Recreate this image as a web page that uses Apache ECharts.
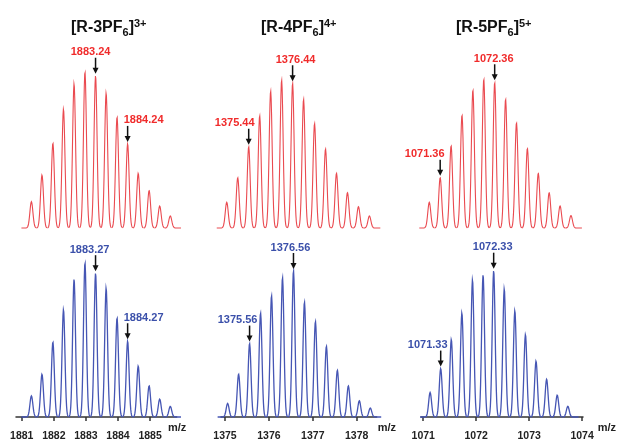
<!DOCTYPE html>
<html>
<head>
<meta charset="utf-8">
<script src="https://cdn.jsdelivr.net/npm/echarts@6/dist/echarts.min.js"></script>
<style>
  html, body { margin: 0; padding: 0; background: #fff; }
  #main { width: 617px; height: 442px; }
</style>
</head>
<body>
<div id="main"></div>
<script>
// m/z values and relative intensities
const calcMz1 = [1881.30, 1881.63, 1881.97, 1882.30, 1882.63, 1882.97, 1883.30, 1883.63, 1883.97, 1884.30, 1884.63, 1884.97, 1885.30, 1885.63];
const calcInt1 = [16.9, 34.0, 54.4, 76.2, 92.5, 100, 97.6, 86.5, 71.1, 53.9, 35.1, 24.0, 14.1, 7.7];
const expMz1 = [1881.30, 1881.63, 1881.97, 1882.30, 1882.63, 1882.97, 1883.30, 1883.63, 1883.97, 1884.30, 1884.63, 1884.97, 1885.30, 1885.63];
const expInt1 = [13.7, 27.7, 48.5, 69.5, 89.3, 100, 93.2, 83.5, 64.2, 49.1, 33.0, 20.2, 11.6, 6.9];

const calcMz2 = [1375.04, 1375.29, 1375.54, 1375.79, 1376.04, 1376.29, 1376.54, 1376.79, 1377.04, 1377.29, 1377.54, 1377.79, 1378.04, 1378.29];
const calcInt2 = [17.4, 34.0, 54.9, 75.9, 92.6, 100, 97.8, 87.0, 70.7, 53.4, 37.0, 23.9, 14.4, 8.1];
const expMz2 = [1375.06, 1375.31, 1375.56, 1375.81, 1376.06, 1376.31, 1376.56, 1376.81, 1377.06, 1377.31, 1377.56, 1377.81, 1378.06, 1378.31];
const expInt2 = [9.3, 29.3, 50.3, 71.2, 83.0, 95.4, 100, 78.7, 65.5, 48.5, 32.0, 21.3, 11.1, 6.1];

const calcMz3 = [1071.11, 1071.31, 1071.51, 1071.71, 1071.91, 1072.11, 1072.31, 1072.51, 1072.71, 1072.91, 1073.11, 1073.31, 1073.51, 1073.71];
const calcInt3 = [17.2, 33.8, 55.2, 75.8, 92.6, 100, 97.8, 86.6, 70.7, 53.5, 36.7, 23.7, 14.8, 8.3];
const expMz3 = [1071.13, 1071.33, 1071.53, 1071.73, 1071.93, 1072.13, 1072.33, 1072.53, 1072.73, 1072.93, 1073.13, 1073.33, 1073.53, 1073.73];
const expInt3 = [16.8, 33.1, 53.0, 71.1, 93.7, 97.1, 100, 87.6, 72.6, 56.3, 38.2, 25.8, 14.9, 7.3];

// labelled peaks (index into the arrays above) and their texts
const calcNoteIdx1 = [6, 9];
const calcNoteText1 = ['1883.24', '1884.24'];
const expNoteIdx1 = [6, 9];
const expNoteText1 = ['1883.27', '1884.27'];
const calcNoteIdx2 = [2, 6];
const calcNoteText2 = ['1375.44', '1376.44'];
const expNoteIdx2 = [2, 6];
const expNoteText2 = ['1375.56', '1376.56'];
const calcNoteIdx3 = [1, 6];
const calcNoteText3 = ['1071.36', '1072.36'];
const expNoteIdx3 = [1, 6];
const expNoteText3 = ['1071.33', '1072.33'];

const ticks1 = [1881, 1882, 1883, 1884, 1885];
const ticks2 = [1375, 1376, 1377, 1378];
const ticks3 = [1071, 1072, 1073, 1074];

const titleCharge = ['3', '4', '5'];

// layout / style
const FONT = 'Liberation Sans, Arial, sans-serif';
const RED_LINE = '#ea4a50';
const RED_TEXT = '#f02b2b';
const BLUE_LINE = '#4656b4';
const BLUE_TEXT = '#3b50aa';

const columns = [
  { left: 16, width: 160.7, min: 1880.82, max: 1885.83, titleLeft: 71, nameGap: -8.7 },
  { left: 221, width: 155.7, min: 1374.909, max: 1378.456, titleLeft: 261, nameGap: 1 },
  { left: 421, width: 166.7, min: 1070.958, max: 1074.017, titleLeft: 456, nameGap: 5.6 }
];
const redBoxes = [{ top: 72, height: 156 }, { top: 80, height: 148 }, { top: 79, height: 149 }];
const blueBoxes = [{ top: 262.7, height: 155.3 }, { top: 271, height: 147 }, { top: 270.7, height: 147.3 }];
// horizontal shift of each note label from its arrow, px
const calcShift = [[-5, 16], [-14, 3], [-15.5, -1]];
const expShift = [[-6, 16], [-12, -3], [-13, -1]];

const panels = [
  { calc: [calcMz1, calcInt1], exp: [expMz1, expInt1], ticks: ticks1,
    calcNote: [calcNoteIdx1, calcNoteText1], expNote: [expNoteIdx1, expNoteText1] },
  { calc: [calcMz2, calcInt2], exp: [expMz2, expInt2], ticks: ticks2,
    calcNote: [calcNoteIdx2, calcNoteText2], expNote: [expNoteIdx2, expNoteText2] },
  { calc: [calcMz3, calcInt3], exp: [expMz3, expInt3], ticks: ticks3,
    calcNote: [calcNoteIdx3, calcNoteText3], expNote: [expNoteIdx3, expNoteText3] }
];

// one peak drawn as a narrow bell between the midpoints to its neighbours
function peakRenderer(mzArr, color, lineWidth, sigma) {
  return function (params, api) {
    const i = params.dataIndex;
    const x = api.value(0);
    const top = api.coord([x, api.value(1)]);
    const base = api.coord([x, 0]);
    const cx = top[0];
    const h = base[1] - top[1];
    let xl, xr;
    if (i > 0) xl = (api.coord([mzArr[i - 1], 0])[0] + cx) / 2;
    else xl = cx - 10;
    if (i < mzArr.length - 1) xr = (api.coord([mzArr[i + 1], 0])[0] + cx) / 2;
    else xr = cx + 11;
    const pts = [];
    for (let px = xl; px <= xr + 0.01; px += 0.4) {
      const d = px - cx;
      pts.push([px, base[1] - h * Math.exp(-d * d / (2 * sigma * sigma))]);
    }
    return {
      type: 'polyline',
      shape: { points: pts },
      style: { stroke: color, lineWidth: lineWidth, fill: null }
    };
  };
}

function noteRenderer(texts, shifts, color) {
  return function (params, api) {
    const p = api.coord([api.value(0), api.value(1)]);
    const cx = p[0];
    const tip = p[1] - 2;
    const start = tip - 16;
    return {
      type: 'group',
      children: [
        { type: 'line', shape: { x1: cx, y1: start, x2: cx, y2: tip - 4 },
          style: { stroke: '#111', lineWidth: 1.5 } },
        { type: 'polygon', shape: { points: [[cx - 3, tip - 6], [cx + 3, tip - 6], [cx, tip]] },
          style: { fill: '#111' } },
        { type: 'text', style: {
            text: texts[params.dataIndex], x: cx + shifts[params.dataIndex], y: start - 5.5,
            align: 'center', verticalAlign: 'middle', fill: color,
            font: 'bold 11px ' + FONT } }
      ]
    };
  };
}

const grid = [], xAxis = [], yAxis = [], series = [], title = [];

panels.forEach(function (pn, c) {
  const col = columns[c];
  const gTop = grid.length;
  grid.push({ left: col.left, width: col.width, top: redBoxes[c].top, height: redBoxes[c].height });
  grid.push({ left: col.left, width: col.width, top: blueBoxes[c].top, height: blueBoxes[c].height });
  const gBot = gTop + 1;

  xAxis.push({ gridIndex: gTop, type: 'value', min: col.min, max: col.max, show: false });
  xAxis.push({
    gridIndex: gBot, type: 'value', min: col.min, max: col.max, offset: 3,
    axisLine: { lineStyle: { color: '#333', width: 1.5 } },
    axisTick: { length: 4, customValues: pn.ticks, lineStyle: { color: '#333', width: 1.5 } },
    axisLabel: { customValues: pn.ticks, margin: 11, fontWeight: 'bold', fontSize: 10.5,
      color: '#222', fontFamily: FONT, formatter: function (v) { return String(v); } },
    splitLine: { show: false },
    name: 'm/z', nameLocation: 'end', nameGap: col.nameGap,
    nameTextStyle: { fontWeight: 'bold', fontSize: 11, color: '#222', fontFamily: FONT,
      verticalAlign: 'top', padding: [5, 0, 0, 0] }
  });
  yAxis.push({ gridIndex: gTop, type: 'value', min: 0, max: 100, show: false });
  yAxis.push({ gridIndex: gBot, type: 'value', min: 0, max: 100, show: false });

  const calcData = pn.calc[0].map(function (m, i) { return [m, pn.calc[1][i]]; });
  const expData = pn.exp[0].map(function (m, i) { return [m, pn.exp[1][i]]; });

  series.push({ type: 'custom', xAxisIndex: gTop, yAxisIndex: gTop, silent: true,
    renderItem: peakRenderer(pn.calc[0], RED_LINE, 1.1, 1.5), data: calcData });
  series.push({ type: 'custom', xAxisIndex: gBot, yAxisIndex: gBot, silent: true,
    renderItem: peakRenderer(pn.exp[0], BLUE_LINE, 1.3, 1.45), data: expData });

  series.push({ type: 'custom', xAxisIndex: gTop, yAxisIndex: gTop, silent: true, z: 5,
    renderItem: noteRenderer(pn.calcNote[1], calcShift[c], RED_TEXT),
    data: pn.calcNote[0].map(function (i) { return calcData[i]; }) });
  series.push({ type: 'custom', xAxisIndex: gBot, yAxisIndex: gBot, silent: true, z: 5,
    renderItem: noteRenderer(pn.expNote[1], expShift[c], BLUE_TEXT),
    data: pn.expNote[0].map(function (i) { return expData[i]; }) });

  title.push({
    left: col.titleLeft, top: 18, padding: 0,
    text: '{a|[R-' + titleCharge[c] + 'PF}{s|6}{a|]}{p|' + titleCharge[c] + '+}',
    textStyle: {
      rich: {
        a: { fontSize: 16, fontWeight: 'bold', color: '#111', lineHeight: 20, fontFamily: FONT },
        s: { fontSize: 11, fontWeight: 'bold', color: '#111', lineHeight: 11, verticalAlign: 'bottom', fontFamily: FONT },
        p: { fontSize: 11, fontWeight: 'bold', color: '#111', lineHeight: 11, verticalAlign: 'top', fontFamily: FONT }
      }
    }
  });
});

const option = {
  animation: false,
  backgroundColor: '#fff',
  textStyle: { fontFamily: FONT },
  title: title,
  grid: grid,
  xAxis: xAxis,
  yAxis: yAxis,
  series: series
};

const myChart = echarts.init(document.getElementById('main'));
myChart.setOption(option);
window.addEventListener('resize', function () { myChart.resize(); });
</script>
</body>
</html>
